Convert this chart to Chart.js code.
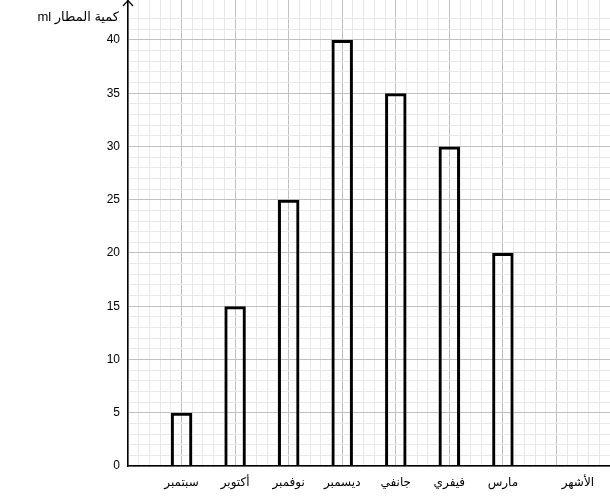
<!DOCTYPE html>
<html>
<head>
<meta charset="utf-8">
<script src="https://cdn.jsdelivr.net/npm/chart.js@4/dist/chart.umd.min.js"></script>
<style>
  body { margin: 0; background: #fff; }
</style>
</head>
<body>
<canvas id="rainChart" width="610" height="500"></canvas>
<script>
// data
const months = ['سبتمبر', 'أكتوبر', 'نوفمبر', 'ديسمبر', 'جانفي', 'فيفري', 'مارس'];
const rainfall = [5, 15, 25, 40, 35, 30, 20];
const yLabelEvery = 5;
const xAxisName = 'الأشهر';
const yAxisName = 'كمية المطار ml';

const FONT = '"Liberation Sans", "DejaVu Sans", Arial, sans-serif';
const MAJOR = '#c0c0c0';
const MINOR = '#e8e8e8';

const isWhole = v => Math.abs(v - Math.round(v)) < 1e-6;

// arrow on the y axis + its name
const axisExtras = {
  id: 'axisExtras',
  afterDraw(chart) {
    const { ctx, chartArea } = chart;
    const x0 = chartArea.left;
    ctx.save();
    ctx.strokeStyle = '#000';
    ctx.lineWidth = 1.2;
    ctx.beginPath();
    ctx.moveTo(x0 - 5, 6);
    ctx.lineTo(x0, 0.5);
    ctx.lineTo(x0 + 5, 6);
    ctx.stroke();

    ctx.fillStyle = '#000';
    ctx.font = '13px ' + FONT;
    ctx.direction = 'rtl';
    ctx.textAlign = 'right';
    ctx.textBaseline = 'middle';
    ctx.fillText(yAxisName, x0 - 9, 17);
    ctx.restore();
  }
};

new Chart(document.getElementById('rainChart'), {
  type: 'bar',
  data: {
    datasets: [{
      data: rainfall.map((v, i) => ({ x: i + 1, y: v })),
      backgroundColor: 'rgba(0,0,0,0)',
      borderColor: '#000',
      borderWidth: 3,
      // min spacing is the 0.2 grid step, so 2x gives a bar 0.4 units wide
      categoryPercentage: 1,
      barPercentage: 2
    }]
  },
  options: {
    responsive: false,
    animation: false,
    layout: { padding: 0 },
    plugins: {
      legend: { display: false },
      tooltip: { enabled: false }
    },
    scales: {
      x: {
        type: 'linear',
        min: 0,
        max: 9,
        offset: false,
        afterFit: s => { s.height = 34; s.paddingLeft = 0; s.paddingRight = 0; },
        border: { color: '#000', width: 1.5 },
        grid: {
          offset: false,
          drawTicks: false,
          color: c => isWhole(c.tick.value) ? MAJOR : MINOR
        },
        ticks: {
          stepSize: 0.2,
          autoSkip: false,
          maxRotation: 0,
          minRotation: 0,
          padding: 9,
          color: '#000',
          font: { family: FONT, size: 12 },
          callback: v => {
            if (Math.abs(v - 8.4) < 1e-6) return xAxisName;
            if (isWhole(v) && v >= 1 && v <= months.length) return months[Math.round(v) - 1];
            return '';
          }
        }
      },
      y: {
        min: 0,
        max: 43.75,
        afterFit: s => { s.width = 128; s.paddingTop = 0; s.paddingBottom = 0; },
        border: { color: '#000', width: 1.5 },
        grid: {
          drawTicks: false,
          color: c => {
            const v = c.tick.value;
            if (!isWhole(v)) return 'rgba(0,0,0,0)';
            return Math.round(v) % yLabelEvery === 0 ? MAJOR : MINOR;
          }
        },
        ticks: {
          stepSize: 1,
          autoSkip: false,
          padding: 8,
          color: '#000',
          font: { family: FONT, size: 12 },
          callback: v => (isWhole(v) && Math.round(v) % yLabelEvery === 0) ? String(v) : ''
        }
      }
    }
  },
  plugins: [axisExtras]
});
</script>
</body>
</html>
